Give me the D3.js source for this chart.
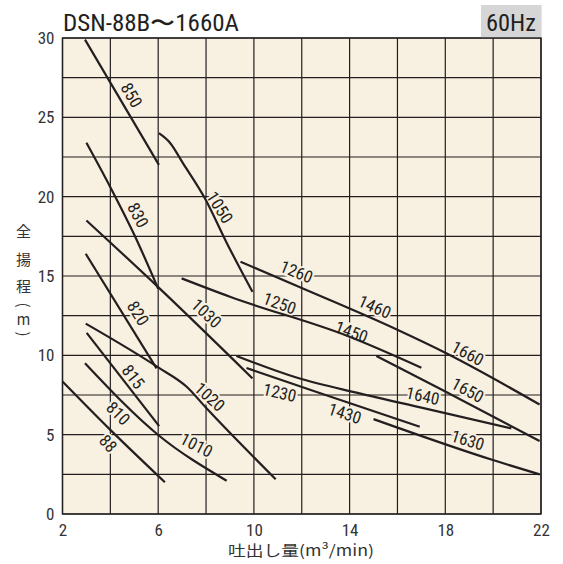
<!DOCTYPE html>
<html><head><meta charset="utf-8">
<script src="https://cdn.jsdelivr.net/npm/d3@7"></script>
<style>
html,body{margin:0;padding:0;background:#fff;}
svg{display:block;}
</style></head>
<body>
<svg id="chart" width="563" height="564"></svg>
<script>
// ---- data ----
const title = "DSN-88B〜1660A";
const freqLabel = "60Hz";
const xTicks = [2, 6, 10, 14, 18, 22];
const yTicks = [0, 5, 10, 15, 20, 25, 30];
const xTitle = "吐出し量(m³/min)";
const yTitleChars = ["全", "揚", "程"];

const c850 = [[2.94, 29.9], [6.03, 22.0]];
const c830 = [[3.0, 23.4], [4.0, 20.6], [5.0, 17.6], [6.0, 14.2]];
const c1030 = [[3.0, 18.5], [6.0, 14.3], [9.94, 8.55]];
const c1050 = [[6.03, 24.0], [6.49, 23.4], [7.04, 22.1], [7.95, 19.9], [8.86, 17.1], [9.94, 14.0]];
const c1660 = [[9.44, 15.9], [12.0, 14.24], [15.95, 11.64], [18.04, 10.13], [21.94, 6.9]];
const c1450 = [[6.98, 14.85], [9.0, 13.69], [14.0, 11.17], [17.0, 9.22]];
const c1650 = [[15.12, 9.96], [17.9, 7.8], [21.94, 4.6]];
const c1640 = [[9.27, 9.96], [11.78, 8.6], [14.42, 7.6], [17.0, 6.7], [20.76, 5.4]];
const c1430 = [[9.69, 9.2], [12.5, 7.75], [16.93, 5.5]];
const c1630 = [[15.0, 5.98], [19.99, 3.4], [21.94, 2.5]];
const c820 = [[2.97, 16.4], [5.93, 9.18]];
const c1020 = [[2.97, 12.0], [6.0, 9.24], [7.19, 8.02], [8.02, 6.66], [10.91, 2.19]];
const c815 = [[3.01, 11.42], [6.04, 5.54]];
const c1010 = [[2.94, 9.5], [6.0, 4.98], [8.86, 2.1]];
const c88 = [[2.0, 8.35], [4.0, 5.3], [6.28, 2.0]];

const curves = [c850, c830, c1030, c1050, c1660, c1450, c1650, c1640, c1430, c1630, c820, c1020, c815, c1010, c88];

// label text, x, y (data units), angle (deg)
const labelText = ["850","830","1050","820","1030","815","1020","810","88","1010","1230","1260","1250","1460","1450","1660","1650","1640","1430","1630"];
const labelX = [4.89, 5.16, 8.58, 5.16, 8.02, 4.96, 8.16, 4.33, 3.91, 7.60, 11.08, 11.78, 11.08, 15.05, 14.08, 18.94, 18.94, 17.06, 13.80, 18.94];
const labelY = [26.40, 18.84, 19.33, 12.65, 12.65, 8.65, 7.39, 6.35, 4.45, 4.35, 7.66, 15.27, 13.28, 13.06, 11.49, 10.13, 7.81, 7.45, 6.35, 4.66];
const labelAngle = [60, 62, 58, 58, 43, 52, 42, 45, 48, 27, 13, 22, 20, 24, 20, 28, 28, 12, 18, 17];

// ---- drawing ----
const W = 563, H = 564;
const m = {left: 62.5, right: 541, top: 38, bottom: 514};
const BG = "#f8f0e0";
const INK = "#231f20";
const narrow = "'Liberation Sans Narrow','Arial Narrow','Roboto Condensed','Liberation Sans',sans-serif";

const svg = d3.select("#chart");
const x = d3.scaleLinear().domain([2, 22]).range([m.left, m.right]);
const y = d3.scaleLinear().domain([0, 30]).range([m.bottom, m.top]);

// background
svg.append("rect").attr("x", m.left).attr("y", m.top)
  .attr("width", m.right - m.left).attr("height", m.bottom - m.top).attr("fill", BG);

// grid
const gx = d3.range(2, 22.01, 2);
const gy = d3.range(0, 30.01, 2.5);
svg.append("g").selectAll("line").data(gx).join("line")
  .attr("x1", d => x(d)).attr("x2", d => x(d)).attr("y1", m.top).attr("y2", m.bottom)
  .attr("stroke", INK).attr("stroke-width", 1.2);
svg.append("g").selectAll("line").data(gy).join("line")
  .attr("y1", d => y(d)).attr("y2", d => y(d)).attr("x1", m.left).attr("x2", m.right)
  .attr("stroke", INK).attr("stroke-width", 1.2);

// frequency box
svg.append("rect").attr("x", 481).attr("y", 5).attr("width", m.right - 481 + 0.6).attr("height", m.top - 5)
  .attr("fill", "#d6d6d6");
svg.append("text").attr("x", (481 + m.right) / 2).attr("y", 31).attr("text-anchor", "middle")
  .attr("font-family", narrow).attr("font-size", 23).attr("fill", INK)
  .attr("textLength", 50).attr("lengthAdjust", "spacingAndGlyphs").text(freqLabel);

// border
svg.append("rect").attr("x", m.left).attr("y", m.top)
  .attr("width", m.right - m.left).attr("height", m.bottom - m.top)
  .attr("fill", "none").attr("stroke", INK).attr("stroke-width", 1.4);

// title
svg.append("text").attr("x", 63).attr("y", 31)
  .attr("font-family", narrow).attr("font-size", 23).attr("fill", INK)
  .attr("textLength", 176).attr("lengthAdjust", "spacingAndGlyphs").text(title);

// axes tick labels
const xAxis = d3.axisBottom(x).tickValues(xTicks).tickSize(0).tickPadding(10);
const gxa = svg.append("g").attr("transform", `translate(0,${m.bottom})`).call(xAxis);
gxa.select(".domain").remove();
gxa.selectAll("text").attr("font-family", narrow).attr("font-size", 17).attr("fill", "#333");

const yAxis = d3.axisLeft(y).tickValues(yTicks).tickSize(0).tickPadding(8);
const gya = svg.append("g").attr("transform", `translate(${m.left},0)`).call(yAxis);
gya.select(".domain").remove();
gya.selectAll("text").attr("font-family", narrow).attr("font-size", 17).attr("fill", "#333");

// axis titles
svg.append("text").attr("x", 301).attr("y", 556).attr("text-anchor", "middle")
  .attr("font-family", "'Noto Sans CJK JP',sans-serif").attr("font-size", 15)
  .attr("fill", "#333").attr("textLength", 146).attr("lengthAdjust", "spacingAndGlyphs").text(xTitle);

const yt = svg.append("g").attr("font-family", "'Noto Sans CJK JP',sans-serif").attr("font-size", 15).attr("fill", "#333");
yTitleChars.forEach((c, i) => {
  yt.append("text").attr("x", 23.5).attr("y", 237 + i * 27.5).attr("text-anchor", "middle").text(c);
});
yt.append("text").attr("transform", "translate(23.5,305) rotate(90)").attr("text-anchor", "middle").attr("dy", "0.35em").text("(");
yt.append("text").attr("x", 23.5).attr("y", 325).attr("text-anchor", "middle").text("m");
yt.append("text").attr("transform", "translate(23.5,334) rotate(90)").attr("text-anchor", "middle").attr("dy", "0.35em").text(")");

// labels (with halo)
const labels = labelText.map((t, i) => ({t, x: labelX[i], y: labelY[i], a: labelAngle[i]}));
svg.append("g").selectAll("text").data(labels).join("text")
  .attr("transform", d => `translate(${x(d.x)},${y(d.y)}) rotate(${d.a})`)
  .attr("text-anchor", "middle").attr("dy", "0.36em")
  .attr("font-family", narrow).attr("font-size", 17).attr("fill", INK)
  .attr("stroke", BG).attr("stroke-width", 4).attr("paint-order", "stroke")
  .text(d => d.t);

// curves
const line = d3.line().x(d => x(d[0])).y(d => y(d[1])).curve(d3.curveMonotoneX);
svg.append("g").selectAll("path").data(curves).join("path")
  .attr("d", line).attr("fill", "none").attr("stroke", INK).attr("stroke-width", 2.2)
  .attr("stroke-linecap", "butt");
</script>
</body></html>
